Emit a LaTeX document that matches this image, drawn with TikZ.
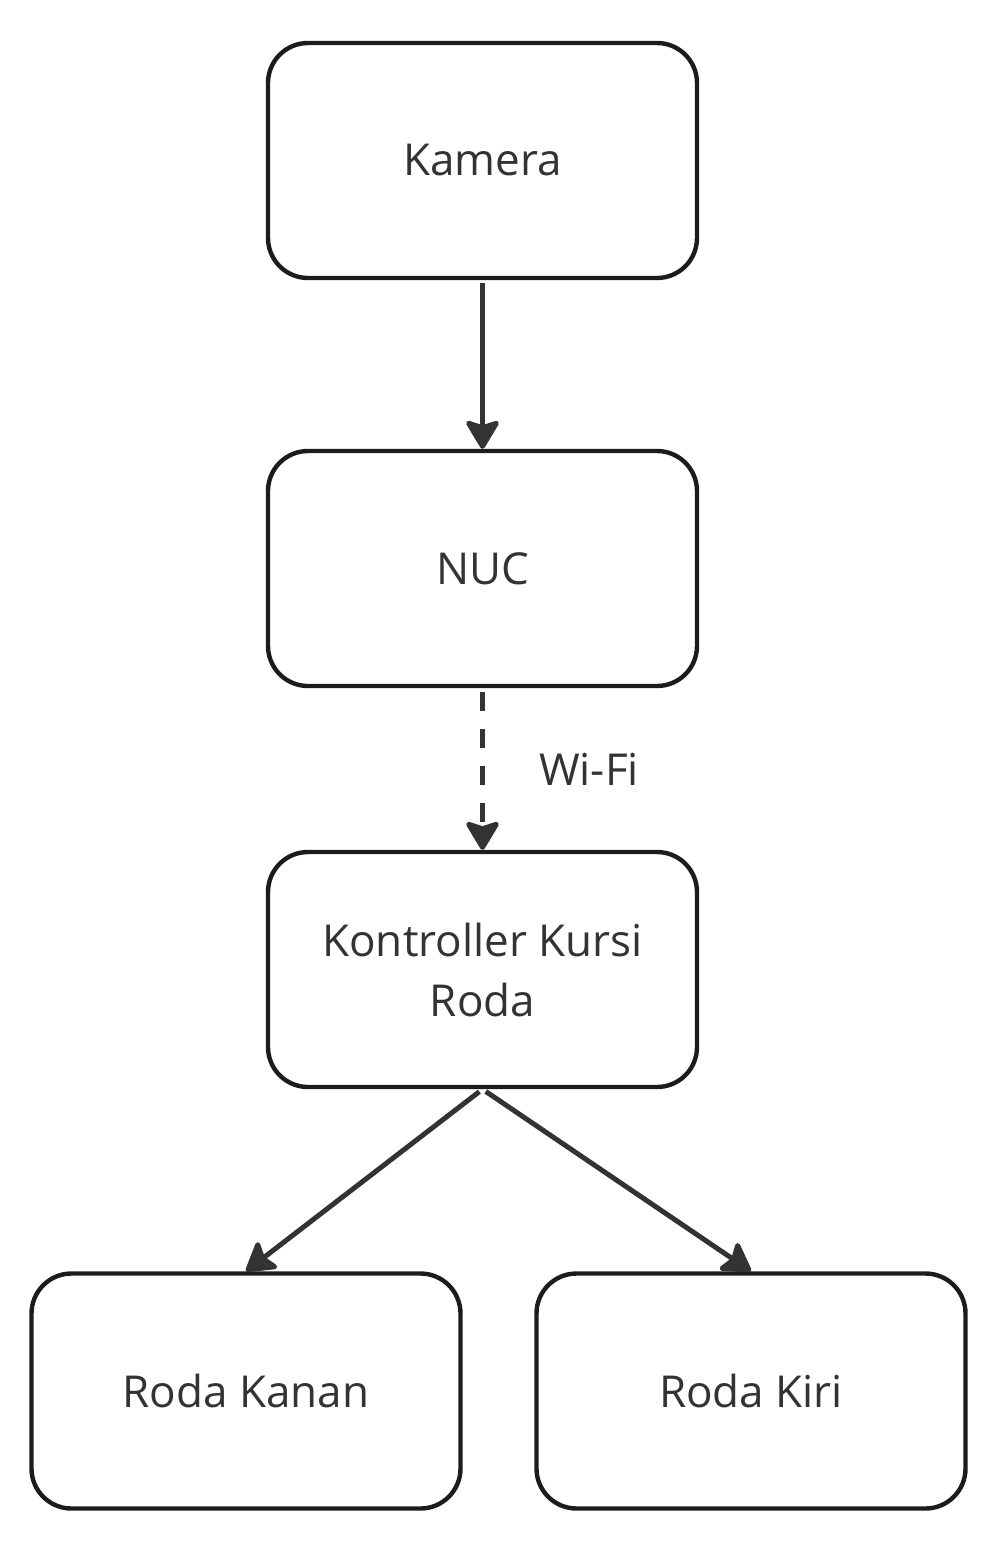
\documentclass[tikz,border=0pt]{standalone}
\usepackage{fontspec}
\setmainfont{Open Sans}
\usepackage{tikz}
\usetikzlibrary{arrows.meta}

\definecolor{inkgray}{HTML}{333333}
\definecolor{boxline}{HTML}{1C1C1C}

\begin{document}
\begin{tikzpicture}[x=1pt,y=1pt,
    block/.style={draw=boxline, line width=2.2pt, rounded corners=20pt,
      minimum width=214.5pt, minimum height=117.5pt, align=center,
      text=inkgray, font=\fontsize{22}{30}\selectfont},
    link/.style={color=inkgray, line width=2.5pt,
      -{Stealth[length=16pt,width=19pt,inset=3pt,round]}}]
  \useasboundingbox (0,0) rectangle (501.5,-778.5);
  \node[block] (kamera)     at (241.25,-80.25)  {Kamera};
  \node[block] (nuc)        at (241.25,-284.25) {NUC};
  \node[block] (kontroller) at (241.25,-484.75) {Kontroller Kursi\\Roda};
  \node[block] (kanan)      at (123,-695.5)     {Roda Kanan};
  \node[block] (kiri)       at (375.5,-695.5)   {Roda Kiri};
  \path[link]
    (kamera) edge [shorten <=1.5pt] (nuc)
    (nuc) edge [shorten <=2pt, dash pattern=on 9.5pt off 9pt]
      node [midway, right=27pt, inner sep=0pt, text=inkgray,
        font=\fontsize{22}{30}\selectfont] {Wi-Fi} (kontroller)
    (kontroller.south) edge [shorten <=2pt] (kanan.north)
    (kontroller.south) edge [shorten <=2pt] (kiri.north);
\end{tikzpicture}
\end{document}
